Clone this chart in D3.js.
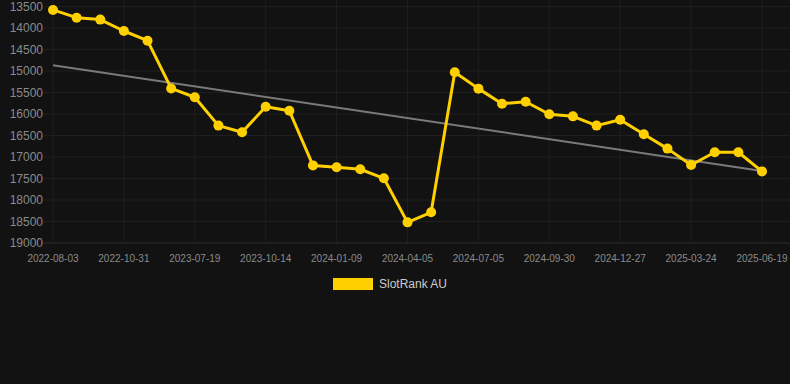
<!DOCTYPE html>
<html>
<head>
<meta charset="utf-8">
<script src="https://cdn.jsdelivr.net/npm/d3@7"></script>
<style>
    body { margin: 0; background: #121212; }
    svg { display: block; }
</style>
</head>
<body>
<svg id="vis" width="790" height="384"></svg>
<script>
// SlotRank AU over time (rank axis is inverted: lower is better)

const dates = [
    "2022-08-03", "2022-09-02", "2022-10-01", "2022-10-31", "2023-01-15", "2023-04-20",
    "2023-07-19", "2023-08-17", "2023-09-15", "2023-10-14", "2023-11-12", "2023-12-11",
    "2024-01-09", "2024-02-07", "2024-03-07", "2024-04-05", "2024-05-05", "2024-06-05",
    "2024-07-05", "2024-08-03", "2024-09-01", "2024-09-30", "2024-10-29", "2024-11-28",
    "2024-12-27", "2025-01-25", "2025-02-23", "2025-03-24", "2025-04-22", "2025-05-21",
    "2025-06-19"
];

const rankValues = [
    13580, 13760, 13805, 14070, 14295, 15405,
    15610, 16270, 16425, 15830, 15925, 17195,
    17240, 17285, 17495, 18520, 18285, 15030,
    15410, 15760, 15715, 16005, 16055, 16270,
    16135, 16470, 16805, 17185, 16890, 16890,
    17335
];

const yTicks = [13500, 14000, 14500, 15000, 15500, 16000, 16500, 17000, 17500, 18000, 18500, 19000];
const seriesName = "SlotRank AU";

const svg = d3.select('#vis');
const WIDTH = 790, HEIGHT = 384;
const plotLeft = 53, plotRight = 762, plotTop = 6.5, plotBottom = 243;
const gold = "#ffd000";

var x = d3.scalePoint()
    .domain(dates)
    .range([plotLeft, plotRight]);

var y = d3.scaleLinear()
    .domain([13500, 19000])
    .range([plotTop, plotBottom]);

// grid
svg.append("g").selectAll("line")
    .data(yTicks)
    .enter().append("line")
    .attr("x1", 44).attr("x2", WIDTH)
    .attr("y1", d => y(d)).attr("y2", d => y(d))
    .attr("stroke", d => d === 19000 ? "#2c2c2c" : "#1f1f1f")
    .attr("stroke-width", 1);

var shownDates = dates.filter((d, i) => i % 3 === 0);

svg.append("g").selectAll("line")
    .data(shownDates)
    .enter().append("line")
    .attr("x1", d => x(d)).attr("x2", d => x(d))
    .attr("y1", 0).attr("y2", plotBottom)
    .attr("stroke", "#1f1f1f")
    .attr("stroke-width", 1);

// y labels
svg.append("g").selectAll("text")
    .data(yTicks)
    .enter().append("text")
    .attr("x", 43)
    .attr("y", d => y(d))
    .attr("dy", "0.35em")
    .attr("text-anchor", "end")
    .attr("fill", "#8a8a8a")
    .attr("font-family", "Liberation Sans, Arial, sans-serif")
    .attr("font-size", 12)
    .text(d => d);

// x labels
svg.append("g").selectAll("text")
    .data(shownDates)
    .enter().append("text")
    .attr("x", d => x(d))
    .attr("y", 262)
    .attr("text-anchor", "middle")
    .attr("fill", "#8a8a8a")
    .attr("font-family", "Liberation Sans, Arial, sans-serif")
    .attr("font-size", 10)
    .text(d => d);

// trend line (least squares over index)
var n = rankValues.length;
var mx = d3.mean(rankValues, (d, i) => i);
var my = d3.mean(rankValues);
var sxy = d3.sum(rankValues, (d, i) => (i - mx) * (d - my));
var sxx = d3.sum(rankValues, (d, i) => (i - mx) * (i - mx));
var slope = sxy / sxx;
var icpt = my - slope * mx;

svg.append("line")
    .attr("x1", x(dates[0])).attr("y1", y(icpt))
    .attr("x2", x(dates[n - 1])).attr("y2", y(icpt + slope * (n - 1)))
    .attr("stroke", "#7a7a7a")
    .attr("stroke-width", 2);

// series
var line = d3.line()
    .x((d, i) => x(dates[i]))
    .y(d => y(d));

svg.append("path")
    .datum(rankValues)
    .attr("d", line)
    .attr("fill", "none")
    .attr("stroke", gold)
    .attr("stroke-width", 3)
    .attr("stroke-linejoin", "round");

svg.append("g").selectAll("circle")
    .data(rankValues)
    .enter().append("circle")
    .attr("cx", (d, i) => x(dates[i]))
    .attr("cy", d => y(d))
    .attr("r", 5)
    .attr("fill", gold);

// legend
var legend = svg.append("g");
legend.append("rect")
    .attr("x", 333).attr("y", 278)
    .attr("width", 40).attr("height", 12)
    .attr("fill", gold);
legend.append("text")
    .attr("x", 379).attr("y", 284)
    .attr("dy", "0.35em")
    .attr("fill", "#cccccc")
    .attr("font-family", "Liberation Sans, Arial, sans-serif")
    .attr("font-size", 12)
    .text(seriesName);
</script>
</body>
</html>
